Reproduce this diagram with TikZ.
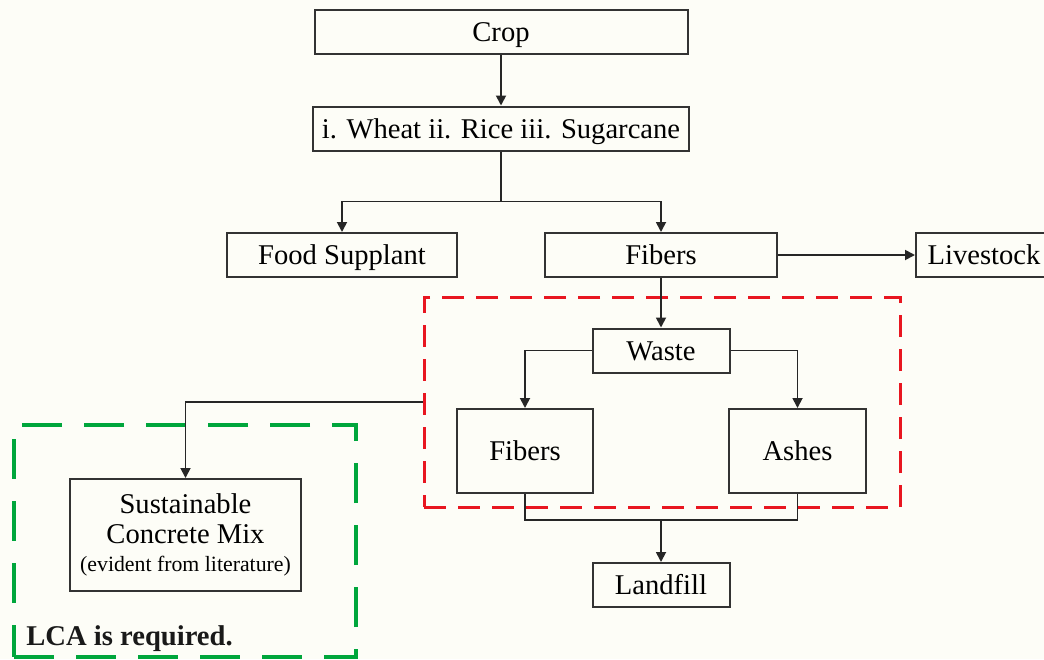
\documentclass[tikz,border=0pt]{standalone}
\usepackage{fontspec}
\setmainfont{Liberation Serif}
\usetikzlibrary{arrows.meta, positioning}
\definecolor{paper}{RGB}{253,253,247}
\definecolor{lcagreen}{RGB}{0,166,60}
\definecolor{zonered}{RGB}{232,22,32}

\begin{document}
\begin{tikzpicture}[
    x=0.5pt, y=-0.5pt,
    block/.style={rectangle, draw=black!80, line width=1pt, minimum height=22pt, inner sep=2pt, align=center, font=\fontsize{14.3}{15}\selectfont},
    box/.style={block, text height=11.1pt, text depth=1.5pt},
    zone/.style={rectangle, line width=1.5pt, dash pattern=on 11pt off 6pt, inner sep=0pt},
    arrow/.style={-{Triangle[length=5pt, width=5pt]}, line width=0.9pt, black!85},
    joint/.style={line width=0.9pt, black!85},
    note/.style={font=\fontsize{14.3}{15}\selectfont\bfseries, text=black!90}
]

% Page
\useasboundingbox (0,0) rectangle (1044,659);
\clip (0,0) rectangle (1044,659);
\fill[paper] (0,0) rectangle (1044,659);

% Crop and its kinds
\node[box, minimum width=186.5pt] (crop) at (501,32) {Crop};
\node[box, minimum width=188pt] (kinds) at (501,128.5) {i. Wheat ii. Rice iii. Sugarcane};

% Uses
\node[box, minimum width=115pt] (food) at (342,255) {Food Supplant};
\node[box, minimum width=116pt] (fibers) at (661,255) {Fibers};
\node[box, minimum width=68pt, anchor=west] (livestock) at (915,255) {Livestock};

% Waste stream
\node[box, minimum width=68.5pt] (waste) at (661,350.5) {Waste};
\node[box, minimum width=68pt, minimum height=42pt] (wastefib) at (525,451) {Fibers};
\node[box, minimum width=68.5pt, minimum height=42pt] (ashes) at (797.5,451) {Ashes};
\node[box, minimum width=68.5pt] (landfill) at (661,585) {Landfill};
\node[zone, draw=zonered, minimum width=238pt, minimum height=105pt] (wastezone) at (662,402) {};

% Concrete
\node[block, minimum width=115.5pt, minimum height=56pt] (concrete) at (185.5,535) {Sustainable\\Concrete Mix\\[-1pt]{\fontsize{10.9}{12}\selectfont (evident from literature)}};
\node[zone, draw=lcagreen, line width=2pt, dash pattern=on 20pt off 11pt, minimum width=171pt, minimum height=116pt] (lcazone) at (185,541) {};
\node[note, anchor=base west, inner sep=0pt] (lca) at (26,645) {LCA is required.};

% Arrows
\draw[arrow] (crop) -- (kinds);
\draw[arrow] (kinds.south) -- ++(0,50) -| (food.north);
\draw[arrow] (kinds.south) -- ++(0,50) -| (fibers.north);
\draw[arrow] (fibers) -- (livestock);
\draw[arrow] (fibers) -- (waste);
\draw[arrow] (waste.west) -| (wastefib.north);
\draw[arrow] (waste.east) -| (ashes.north);
\draw[arrow] (wastezone.west) -| (concrete.north);
\draw[joint] (wastefib.south) -- ++(0,26) coordinate (merge) -| (ashes.south);
\draw[arrow] (merge -| landfill.north) -- (landfill.north);

\end{tikzpicture}
\end{document}
